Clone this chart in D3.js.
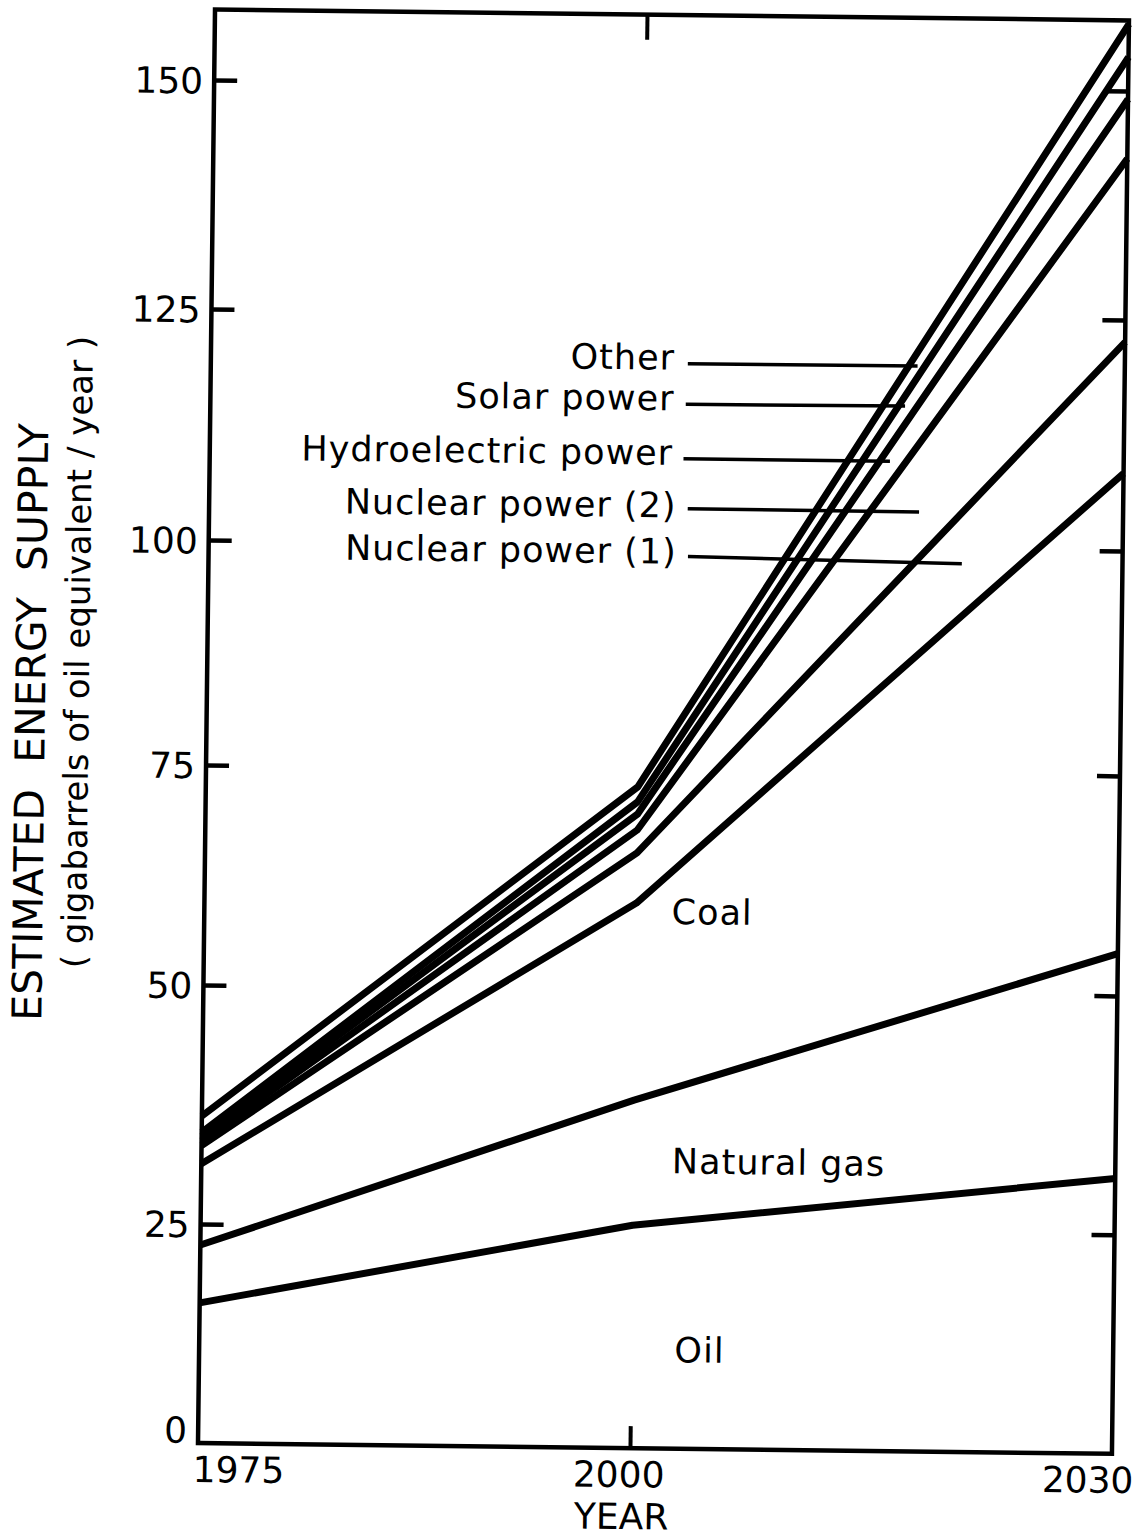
<!DOCTYPE html>
<html>
<head>
<meta charset="utf-8">
<script src="https://cdn.jsdelivr.net/npm/d3@7"></script>
<style>
  html, body { margin: 0; padding: 0; background: #fff; }
  svg { display: block; }
  text { font-family: "DejaVu Sans", sans-serif; fill: #000; }
</style>
</head>
<body>
<div id="chart"></div>
<script>
// ---------- data ----------
const years = [1975, 2000, 2030];
const sourceNames = ["Oil", "Natural gas", "Coal", "Nuclear power (1)", "Nuclear power (2)",
                     "Hydroelectric power", "Solar power", "Other"];
// gigabarrels of oil equivalent per year, per source (stacked in the figure)
const oil        = [16.0, 25.4, 30.9];
const naturalGas = [6.6, 13.1, 23.9];
const coal       = [8.7, 21.4, 53.6];
const nuclear1   = [1.9, 5.7, 14.2];
const nuclear2   = [0.5, 2.6, 20.0];
const hydro      = [0.45, 1.8, 6.5];
const solar      = [0.45, 1.4, 4.6];
const other      = [1.7, 1.7, 3.6];
const yTickValues = [0, 25, 50, 75, 100, 125, 150];
const yTickLabels = ["0", "25", "50", "75", "100", "125", "150"];
const xTickLabels = ["1975", "2000", "2030"];
// labelled layers with leader lines: [label, text anchor (year, value), leader start, leader end]
const leaderLabels = ["Other", "Solar power", "Hydroelectric power", "Nuclear power (2)", "Nuclear power (1)"];
const leaderTextPos = [[2002.0, 120.4], [2002.0, 116.0], [2001.95, 110.1], [2002.2, 104.4], [2002.25, 99.4]];
const leaderFrom    = [[2002.8, 119.7], [2002.7, 115.3], [2002.6, 109.4], [2002.9, 104.0], [2002.95, 98.8]];
const leaderTo      = [[2017.1, 119.75], [2016.35, 115.4], [2015.45, 109.4], [2017.3, 103.95], [2020.0, 98.35]];
// in-band labels
const bandLabels = ["Coal", "Natural gas", "Oil"];
const bandLabelPos = [[2002.2, 59.0], [2002.4, 32.2], [2002.7, 11.3]];
const yMaxFrame = 157.7;

// ---------- layout ----------
const W = 1148, H = 1539;
const svg = d3.select("#chart").append("svg").attr("width", W).attr("height", H);
svg.append("rect").attr("width", W).attr("height", H).attr("fill", "#fff");

// hand-drawn axes: tick marks are not evenly spaced, so use piecewise scales
const x = d3.scaleLinear().domain(years).range([198, 630, 1112]);
const y = d3.scaleLinear().domain(yTickValues).range([1443, 1224, 985, 765, 540, 309, 80]);

// the scanned figure is slightly rotated
const g = svg.append("g").attr("transform", "rotate(0.68, 198, 1443)");

const rows = years.map((yr, i) => ({
  year: yr,
  "Oil": oil[i], "Natural gas": naturalGas[i], "Coal": coal[i],
  "Nuclear power (1)": nuclear1[i], "Nuclear power (2)": nuclear2[i],
  "Hydroelectric power": hydro[i], "Solar power": solar[i], "Other": other[i]
}));
const stacked = d3.stack().keys(sourceNames)(rows);

const x0 = x(years[0]), x1 = x(years[2]), y0 = y(0), yT = y(yMaxFrame);

// data lines (top of each stacked layer)
const line = d3.line().x(d => x(d.data.year)).y(d => y(d[1]));
g.append("g").selectAll("path").data(stacked).join("path")
  .attr("d", line)
  .attr("fill", "none").attr("stroke", "#000")
  .attr("stroke-width", 7).attr("stroke-linejoin", "round");

// frame
g.append("path")
  .attr("d", `M${x0},${yT} L${x1},${yT} L${x1},${y0} L${x0},${y0} Z`)
  .attr("fill", "none").attr("stroke", "#000").attr("stroke-width", 4.5)
  .attr("stroke-linejoin", "miter");

// left axis (inward ticks)
const axL = g.append("g").attr("transform", `translate(${x0},0)`)
  .call(d3.axisLeft(y).tickValues(yTickValues).tickFormat((d, i) => yTickLabels[i])
        .tickSize(-23).tickPadding(11));
axL.select(".domain").remove();
axL.selectAll(".tick line").attr("stroke", "#000").attr("stroke-width", 4.5)
  .filter(d => d === 0).remove();
axL.selectAll(".tick text")
  .attr("font-size", 36).attr("font-family", "DejaVu Sans").attr("fill", "#000")
  .attr("dy", d => d === 0 ? "-0.02em" : "0.36em");

// right axis (inward ticks, no labels)
const axR = g.append("g").attr("transform", `translate(${x1},0)`)
  .call(d3.axisRight(y).tickValues(yTickValues.filter(v => v > 0)).tickSize(-23).tickFormat(""));
axR.select(".domain").remove();
axR.selectAll(".tick line").attr("stroke", "#000").attr("stroke-width", 4.5);

// top & bottom tick at 2000
const axB = g.append("g").attr("transform", `translate(0,${y0})`)
  .call(d3.axisBottom(x).tickValues([2000]).tickSize(-22).tickFormat(""));
axB.select(".domain").remove();
axB.selectAll(".tick line").attr("stroke", "#000").attr("stroke-width", 4);
const axT = g.append("g").attr("transform", `translate(0,${yT})`)
  .call(d3.axisTop(x).tickValues([2000]).tickSize(-25).tickFormat(""));
axT.select(".domain").remove();
axT.selectAll(".tick line").attr("stroke", "#000").attr("stroke-width", 4);

// x tick labels
const xLabAnchor = ["start", "middle", "middle"];
const xLabShift = [-5, -11, -24];
g.append("g").selectAll("text").data(years).join("text")
  .attr("x", (d, i) => x(d) + xLabShift[i])
  .attr("y", y0 + 26)
  .attr("dy", "0.36em")
  .attr("text-anchor", (d, i) => xLabAnchor[i])
  .attr("font-size", 36)
  .text((d, i) => xTickLabels[i]);

g.append("text")
  .attr("x", x(2000) - 8).attr("y", y0 + 68).attr("dy", "0.36em")
  .attr("text-anchor", "middle").attr("font-size", 36)
  .text("YEAR");

// leader labels
leaderLabels.forEach((lab, i) => {
  g.append("text")
    .attr("x", x(leaderTextPos[i][0])).attr("y", y(leaderTextPos[i][1]))
    .attr("dy", "0.36em").attr("text-anchor", "end")
    .attr("font-size", 35).attr("letter-spacing", 1)
    .text(lab);
  g.append("line")
    .attr("x1", x(leaderFrom[i][0])).attr("y1", y(leaderFrom[i][1]))
    .attr("x2", x(leaderTo[i][0])).attr("y2", y(leaderTo[i][1]))
    .attr("stroke", "#000").attr("stroke-width", 3.5);
});

// band labels
bandLabels.forEach((lab, i) => {
  g.append("text")
    .attr("x", x(bandLabelPos[i][0])).attr("y", y(bandLabelPos[i][1]))
    .attr("dy", "0.36em").attr("text-anchor", "start")
    .attr("font-size", 35).attr("letter-spacing", 1)
    .text(lab);
});

// y-axis titles
svg.append("text")
  .attr("transform", "translate(30,722) rotate(-89.32)")
  .attr("text-anchor", "middle").attr("dy", "0.36em")
  .attr("font-size", 41).style("white-space", "pre")
  .text("ESTIMATED  ENERGY  SUPPLY");
svg.append("text")
  .attr("transform", "translate(77,652) rotate(-89.32)")
  .attr("text-anchor", "middle").attr("dy", "0.36em")
  .attr("font-size", 34).style("white-space", "pre")
  .text("( gigabarrels of oil equivalent / year )");
</script>
</body>
</html>
